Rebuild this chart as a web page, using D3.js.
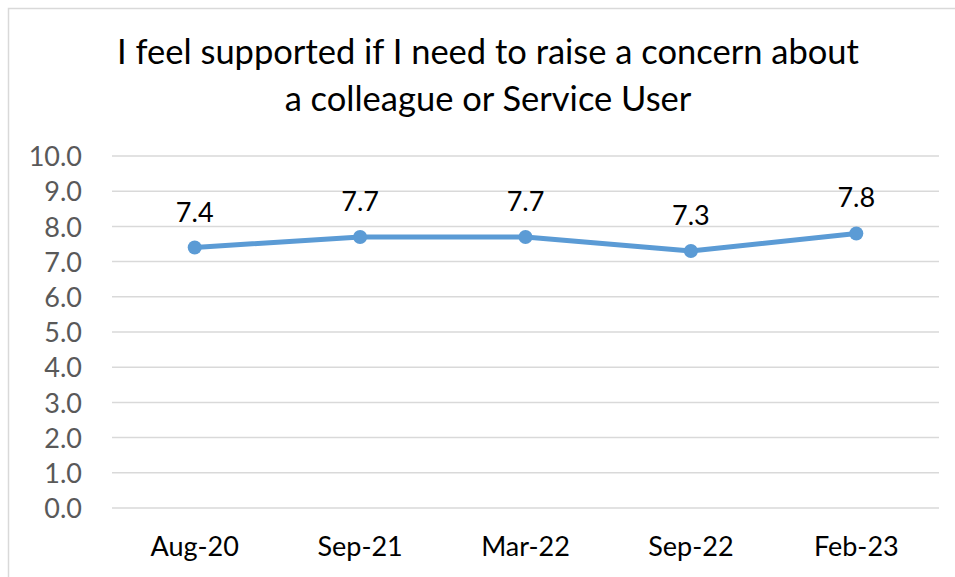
<!DOCTYPE html>
<html><head><meta charset="utf-8">
<script src="https://cdn.jsdelivr.net/npm/d3@7"></script>
<style>body{margin:0;background:#fff}svg{display:block}</style>
</head><body>
<svg id="c" width="955" height="577"></svg>
<script>
const categories = ["Aug-20","Sep-21","Mar-22","Sep-22","Feb-23"];
const values = [7.4,7.7,7.7,7.3,7.8];
const yTicks = [0,1,2,3,4,5,6,7,8,9,10];
const titleLines = ["I feel supported if I need to raise a concern about","a colleague or Service User"];

const svg = d3.select("#c");
const font = "Lato, 'Open Sans', sans-serif";
svg.append("rect").attr("x",8.5).attr("y",8.5).attr("width",1000).attr("height",1000)
  .attr("fill","#fff").attr("stroke","#d9d9d9").attr("stroke-width",1.5);

const pL=112, pR=939, pT=156, pB=508;
const x = d3.scaleBand().domain(categories).range([pL,pR]);
const y = d3.scaleLinear().domain([0,10]).range([pB,pT]);

// gridlines
svg.append("g").selectAll("line").data(yTicks).join("line")
  .attr("x1",pL).attr("x2",pR).attr("y1",d=>y(d)).attr("y2",d=>y(d))
  .attr("stroke","#d9d9d9").attr("stroke-width",1.5);

// y axis
const ya = svg.append("g").attr("transform",`translate(${pL},0)`)
  .call(d3.axisLeft(y).tickValues(yTicks).tickFormat(d3.format(".1f")).tickSize(0).tickPadding(30));
ya.select(".domain").remove();
ya.selectAll("text").attr("font-family",font).attr("font-size",27).attr("fill","#595959").attr("dy","0.36em");

// x axis
const xa = svg.append("g").attr("transform",`translate(0,${pB})`)
  .call(d3.axisBottom(x).tickSize(0).tickPadding(30));
xa.select(".domain").remove();
xa.selectAll("text").attr("font-family",font).attr("font-size",27).attr("fill","#000").attr("dy","0.68em");

const cx = d=>x(d)+x.bandwidth()/2;
const data = categories.map((c,i)=>({c,v:values[i]}));
svg.append("path").datum(data)
  .attr("d",d3.line().x(d=>cx(d.c)).y(d=>y(d.v)))
  .attr("fill","none").attr("stroke","#5b9bd5").attr("stroke-width",5).attr("stroke-linejoin","round");
svg.append("g").selectAll("circle").data(data).join("circle")
  .attr("cx",d=>cx(d.c)).attr("cy",d=>y(d.v)).attr("r",7).attr("fill","#5b9bd5");
svg.append("g").selectAll("text").data(data).join("text")
  .attr("x",d=>cx(d.c)).attr("y",d=>y(d.v)-26).attr("text-anchor","middle")
  .attr("font-family",font).attr("font-size",27).attr("fill","#000").text(d=>d.v.toFixed(1));

svg.append("g").selectAll("text").data(titleLines).join("text")
  .attr("x",488).attr("y",(d,i)=>64+i*47).attr("text-anchor","middle")
  .attr("font-family",font).attr("font-size",34.5).attr("fill","#000").text(d=>d);
</script>
</body></html>
